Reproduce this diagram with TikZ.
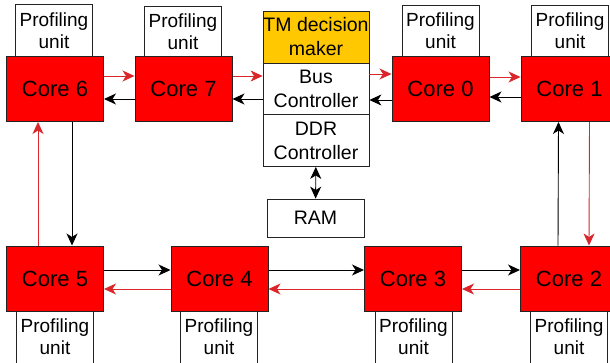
\documentclass[tikz,border=0pt]{standalone}
\usepackage{fontspec}
\setmainfont{Liberation Sans}
\usetikzlibrary{arrows.meta}
\definecolor{corered}{RGB}{255,0,0}
\definecolor{linkred}{RGB}{218,38,42}
\definecolor{tmyellow}{RGB}{255,200,0}
\definecolor{edgegray}{RGB}{35,35,35}

\begin{document}
\begin{tikzpicture}[x=1pt, y=-1pt,
    core/.style={draw=edgegray, fill=corered, line width=1pt, minimum width=97pt, minimum height=65pt, inner sep=0pt, font=\fontsize{22}{26}\selectfont},
    prof/.style={draw=edgegray, fill=white, line width=0.8pt, minimum width=77pt, minimum height=52pt, inner sep=0pt, align=center, font=\fontsize{19}{22}\selectfont},
    ctrl/.style={draw=edgegray, fill=white, line width=0.8pt, minimum width=106pt, minimum height=52pt, inner sep=0pt, align=center, font=\fontsize{19.5}{24}\selectfont},
    fwd/.style={draw=linkred, line width=0.9pt, -{Stealth[length=12pt,width=11pt,inset=3.5pt]}},
    back/.style={draw=black, line width=0.9pt, -{Stealth[length=12pt,width=11pt,inset=3.5pt]}},
    both/.style={draw=black, line width=0.9pt, {Stealth[length=12pt,width=11pt,inset=3.5pt]}-{Stealth[length=12pt,width=11pt,inset=3.5pt]}}]
    \clip (0,0) rectangle (610,362);

    % top row
    \node[prof] (p6) at (54, 30.5) {Profiling\\unit};
    \node[prof] (p7) at (183, 32) {Profiling\\unit};
    \node[prof] (p0) at (440.5, 31) {Profiling\\unit};
    \node[prof] (p1) at (570, 31) {Profiling\\unit};
    \node[core] (c6) at (55, 89) {Core 6};
    \node[core] (c7) at (183.5, 89) {Core 7};
    \node[core] (c0) at (440.5, 89) {Core 0};
    \node[core] (c1) at (569.5, 89) {Core 1};

    % memory side
    \node[ctrl, fill=tmyellow] (tm) at (316, 37) {TM decision\\maker};
    \node[ctrl] (bus) at (316, 89) {Bus\\Controller};
    \node[ctrl] (ddr) at (316, 140.5) {DDR\\Controller};
    \node[ctrl, minimum width=97pt, minimum height=38pt] (ram) at (315.5, 218) {RAM};

    % bottom row
    \node[prof] (p5) at (55, 337) {Profiling\\unit};
    \node[prof] (p4) at (219, 337) {Profiling\\unit};
    \node[prof] (p3) at (413.5, 337) {Profiling\\unit};
    \node[prof] (p2) at (569, 337) {Profiling\\unit};
    \node[core] (c5) at (55, 278.5) {Core 5};
    \node[core] (c4) at (219.5, 278.5) {Core 4};
    \node[core] (c3) at (413, 278.5) {Core 3};
    \node[core] (c2) at (569, 278.5) {Core 2};

    % top links
    \draw[fwd] ([yshift=13pt]c6.east) -- ([yshift=13pt]c7.west);
    \draw[back] ([yshift=-10pt]c7.west) -- ([yshift=-10pt]c6.east);
    \draw[fwd] ([yshift=13pt]c7.east) -- ([yshift=13pt]bus.west);
    \draw[back] ([yshift=-10pt]bus.west) -- ([yshift=-10pt]c7.east);
    \draw[fwd] ([yshift=15pt]bus.east) -- ([yshift=15pt]c0.west);
    \draw[back] ([yshift=-11pt]c0.west) -- ([yshift=-11pt]bus.east);
    \draw[fwd] ([yshift=12pt]c0.east) -- ([yshift=12pt]c1.west);
    \draw[back] ([yshift=-8pt]c1.west) -- ([yshift=-8pt]c0.east);

    % side links
    \draw[back] ([xshift=17pt]c6.south) -- ([xshift=17pt]c5.north);
    \draw[fwd] ([xshift=-17pt]c5.north) -- ([xshift=-17pt]c6.south);
    \draw[back] ([xshift=-11pt]c2.north) -- ([xshift=-11pt]c1.south);
    \draw[fwd] ([xshift=20pt]c1.south) -- ([xshift=20pt]c2.north);

    % bottom links
    \draw[back] ([yshift=8.5pt]c5.east) -- ([yshift=8.5pt]c4.west);
    \draw[fwd] ([yshift=-10.5pt]c4.west) -- ([yshift=-10.5pt]c5.east);
    \draw[back] ([yshift=8.5pt]c4.east) -- ([yshift=8.5pt]c3.west);
    \draw[fwd] ([yshift=-10.5pt]c3.west) -- ([yshift=-10.5pt]c4.east);
    \draw[back] ([yshift=8.5pt]c3.east) -- ([yshift=8.5pt]c2.west);
    \draw[fwd] ([yshift=-10.5pt]c2.west) -- ([yshift=-10.5pt]c3.east);

    % memory
    \draw[both] (ddr) -- (ram);
\end{tikzpicture}
\end{document}
